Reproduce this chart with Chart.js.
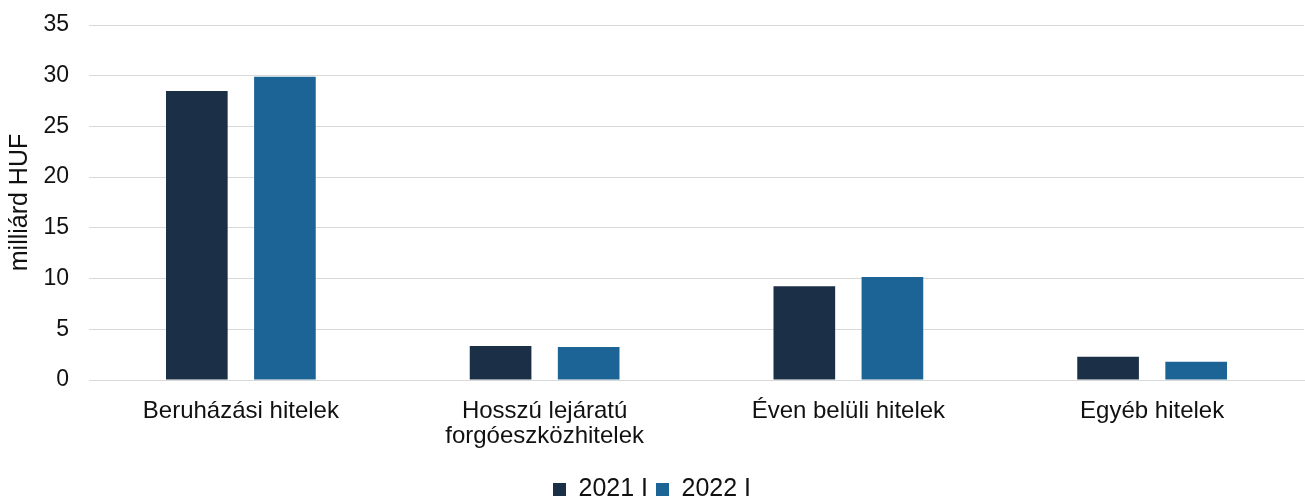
<!DOCTYPE html>
<html>
<head>
<meta charset="utf-8">
<script src="https://cdn.jsdelivr.net/npm/chart.js@4/dist/chart.umd.min.js"></script>
<style>
  html, body { margin: 0; padding: 0; background: #fff; }
  #wrap { width: 1305px; height: 496px; }
</style>
</head>
<body>
<div id="wrap"><canvas id="myChart" width="1305" height="496"></canvas></div>
<script>
'use strict';

const categories = ['Beruházási hitelek', ['Hosszú lejáratú', 'forgóeszközhitelek'], 'Éven belüli hitelek', 'Egyéb hitelek'];
const seriesNames = ['2021 I', '2022 I'];
const values2021 = [28.5, 3.35, 9.25, 2.3];
const values2022 = [29.9, 3.25, 10.15, 1.8];
const yTicks = [0, 5, 10, 15, 20, 25, 30, 35];

const textColor = '#111111';
const gridColor = '#d9d9d9';

Chart.defaults.font.family = '"Liberation Sans", Arial, sans-serif';
Chart.defaults.font.size = 24;
Chart.defaults.color = textColor;

let ctx = document.getElementById('myChart').getContext('2d');
let myChart = new Chart(ctx, {
  type: 'bar',
  data: {
    labels: categories,
    datasets: [{
      label: seriesNames[0],
      data: values2021,
      backgroundColor: '#1b3046',
      categoryPercentage: 0.58,
      barPercentage: 0.7
    }, {
      label: seriesNames[1],
      data: values2022,
      backgroundColor: '#1d6496',
      categoryPercentage: 0.58,
      barPercentage: 0.7
    }]
  },
  options: {
    responsive: false,
    animation: false,
    layout: { padding: { top: 25, right: 1, left: 0, bottom: -16 } },
    plugins: {
      tooltip: { enabled: false },
      legend: {
        position: 'bottom',
        labels: {
          boxWidth: 13,
          boxHeight: 13,
          padding: 8,
          color: textColor,
          font: { size: 25 }
        }
      }
    },
    scales: {
      x: {
        grid: { display: false, drawTicks: false },
        border: { display: true, color: gridColor, width: 1 },
        ticks: { padding: 19, maxRotation: 0, autoSkip: false, font: { size: 24, lineHeight: 1.04 } },
        afterFit: function(scale) { scale.height = 89; }
      },
      y: {
        min: 0,
        max: 35,
        afterBuildTicks: function(scale) { scale.ticks = yTicks.map(v => ({ value: v })); },
        grid: { color: gridColor, drawTicks: false },
        border: { display: false },
        // small lineHeight so the label overhang does not push the plot top down
        ticks: { padding: 20, font: { size: 23, lineHeight: 0.4 } },
        title: { display: true, text: 'milliárd HUF', padding: { top: 5, bottom: 0 }, font: { size: 25 } },
        afterFit: function(scale) { scale.width = 89; }
      }
    }
  }
});
</script>
</body>
</html>
